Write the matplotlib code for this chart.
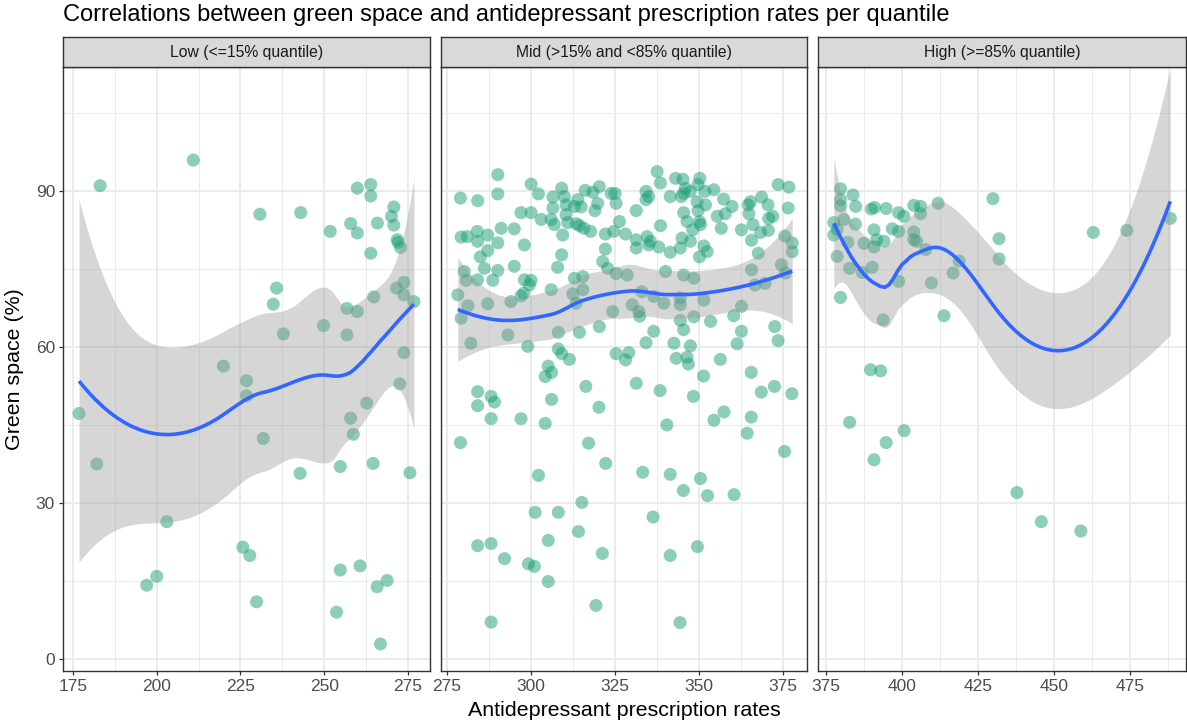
import numpy as np
import matplotlib
matplotlib.use("Agg")
import matplotlib.pyplot as plt
from matplotlib.ticker import MultipleLocator

plt.rcParams['font.family'] = ['Liberation Sans', 'DejaVu Sans']

# ---------------- text ----------------
title = "Correlations between green space and antidepressant prescription rates per quantile"
panel_titles = ["Low (<=15% quantile)", "Mid (>15% and <85% quantile)", "High (>=85% quantile)"]
x_label = "Antidepressant prescription rates"
y_label = "Green space (%)"

# ---------------- data ----------------
low_x = [176.8, 182.1, 183.1, 210.9, 203.0, 200.0, 197.0, 219.9, 226.8, 226.8,
         231.8, 230.8, 243.0, 235.8, 234.8, 237.8, 251.8, 259.9, 263.9, 263.9,
         257.9, 259.9, 265.9, 263.9, 270.8, 270.1, 270.8, 271.8, 272.1, 272.8,
         273.8, 271.6, 273.8, 276.8, 264.8, 256.8, 259.9, 249.8, 256.8, 273.8,
         272.6, 262.7, 257.9, 258.7, 242.8, 254.8, 264.6, 275.6, 225.7, 227.8,
         229.8, 254.8, 260.7, 265.8, 268.8, 253.7, 266.8]
low_y = [47.2, 37.5, 91.0, 95.9, 26.4, 15.9, 14.2, 56.3, 53.5, 50.6,
         42.4, 85.5, 85.8, 71.3, 68.2, 62.5, 82.2, 90.5, 91.2, 89.0,
         83.7, 81.9, 83.8, 78.0, 86.9, 85.1, 83.4, 80.6, 80.1, 79.1,
         72.4, 71.3, 70.0, 68.7, 69.6, 67.4, 66.8, 64.1, 62.3, 58.9,
         52.9, 49.2, 46.3, 43.2, 35.7, 37.0, 37.6, 35.8, 21.5, 19.9,
         11.0, 17.1, 17.9, 13.9, 15.1, 9.0, 2.9]

mid_x = [290.1, 279.0, 284.1, 290.1, 300.0, 302.2, 309.1, 306.5, 309.9, 313.9,
         316.1, 320.3, 318.4, 323.8, 325.0, 325.3, 319.8, 319.0, 312.9, 314.9,
         306.5, 310.4, 297.0, 300.0, 303.0, 306.0, 306.9, 310.4, 310.9, 313.4,
         314.4, 315.7, 317.7, 309.4, 326.3, 322.1, 324.6, 279.2, 281.0, 284.0,
         287.1, 291.1, 295.0, 284.1, 290.1, 298.0, 287.1, 284.9, 309.1, 322.1,
         280.1, 286.1, 290.1, 295.0, 307.9, 321.3, 322.8, 325.3, 312.9, 315.4,
         300.0, 280.7, 284.1, 288.6, 298.0,
         337.5, 338.5, 343.0, 345.2, 350.2, 349.7, 345.9, 345.4, 347.4, 351.7,
         354.4, 334.2, 335.0, 334.2, 341.4, 344.7, 349.4, 351.9, 349.7, 345.4,
         346.4, 350.1, 350.4, 348.1, 331.3, 357.3, 359.8, 355.4, 357.8, 356.6,
         364.6, 364.8, 365.3, 368.6, 370.5, 373.5, 376.7, 376.5, 370.7, 371.9,
         366.0, 368.3, 370.6, 362.6, 365.6, 367.6, 375.5, 377.7, 377.7, 328.1,
         331.3, 334.5, 335.5, 338.5, 331.3, 335.0, 338.0, 341.4, 344.4, 344.9,
         347.4, 351.4, 352.4, 350.1, 340.0, 345.4, 348.4, 328.6, 365.6, 374.5,
         375.7,
         278.2, 281.2, 287.1, 294.0, 297.0, 299.5, 297.8, 306.0, 312.4, 315.4,
         313.4, 324.3, 279.2, 282.1, 293.1, 299.0, 308.1, 314.4, 320.3, 308.1,
         309.1, 311.4, 325.3,
         333.0, 336.5, 339.5, 344.4, 344.4, 351.4, 366.6, 369.6, 330.1, 332.1,
         332.3, 362.6, 360.3, 348.4, 344.4, 353.4, 345.4, 336.5, 362.6, 372.5,
         373.5, 334.2, 342.5, 347.4, 361.3, 329.1, 328.1, 343.2, 346.4, 356.3,
         284.1, 288.1, 289.1, 284.1, 288.1, 297.0, 304.2, 305.1, 306.1, 304.2,
         306.1, 316.3, 320.2, 317.1, 322.2, 331.3, 338.4, 340.4, 348.3, 351.3,
         346.8, 365.5, 368.5, 372.4, 377.6, 354.4, 357.4, 365.5, 364.3, 375.4,
         279.0, 302.2, 333.2, 341.4, 350.4, 345.3, 352.5, 360.4, 315.1, 301.2,
         308.1, 336.3, 314.1, 305.1, 284.1, 288.1, 292.1, 299.2, 301.0, 305.1,
         321.2, 341.4, 349.5, 319.3, 288.1, 344.3]
mid_y = [93.1, 88.6, 88.1, 89.4, 91.3, 89.4, 90.5, 88.8, 88.9, 88.3,
         90.1, 90.8, 89.7, 89.5, 89.5, 87.6, 87.6, 86.2, 87.0, 86.9,
         86.7, 87.3, 85.8, 85.8, 84.5, 84.5, 83.5, 85.4, 83.9, 83.7,
         83.3, 82.8, 82.2, 81.5, 84.1, 81.7, 82.2, 81.1, 81.2, 82.2,
         81.5, 82.8, 82.7, 80.3, 80.0, 79.6, 78.5, 77.3, 77.7, 78.8,
         74.5, 75.1, 74.7, 75.5, 75.3, 76.4, 75.1, 74.1, 73.2, 73.5,
         72.8, 72.8, 72.9, 72.8, 72.9,
         93.7, 91.5, 92.4, 92.2, 92.4, 91.2, 90.5, 89.5, 89.9, 89.9,
         90.2, 89.9, 88.9, 88.3, 88.9, 88.9, 87.9, 87.3, 86.2, 85.8,
         84.1, 84.1, 83.5, 82.5, 86.2, 88.4, 87.0, 85.1, 85.6, 82.8,
         87.3, 85.6, 87.9, 88.8, 87.3, 91.2, 90.7, 86.7, 84.7, 85.1,
         83.5, 82.0, 82.4, 82.5, 80.5, 78.0, 81.3, 80.0, 78.3, 81.7,
         80.6, 81.2, 80.3, 83.3, 79.0, 79.6, 79.2, 78.2, 79.0, 80.9,
         80.3, 79.4, 78.3, 77.3, 74.5, 73.8, 73.2, 73.8, 74.8, 75.8,
         74.2,
         70.0, 67.9, 68.3, 68.7, 69.8, 71.9, 70.3, 71.0, 70.2, 71.0,
         68.4, 66.8, 65.5, 60.7, 62.3, 60.1, 62.8, 62.8, 63.9, 59.6,
         58.7, 57.6, 58.7,
         70.6, 69.7, 68.4, 69.4, 68.1, 69.0, 71.9, 72.2, 68.1, 66.8,
         65.9, 67.8, 66.0, 65.8, 65.1, 64.9, 63.3, 63.0, 63.0, 63.9,
         61.2, 60.8, 60.7, 60.2, 60.6, 58.9, 57.5, 57.8, 58.0, 57.6,
         51.4, 50.5, 49.4, 48.7, 46.2, 46.2, 45.3, 56.3, 55.1, 54.3,
         49.9, 52.4, 48.4, 41.5, 37.6, 53.0, 51.6, 45.0, 50.5, 54.4,
         56.7, 55.1, 51.3, 52.4, 51.0, 45.9, 47.5, 46.5, 43.4, 39.9,
         41.6, 35.3, 35.9, 35.5, 34.7, 32.4, 31.4, 31.6, 30.1, 28.2,
         28.2, 27.3, 24.5, 22.8, 21.8, 22.2, 19.3, 18.3, 17.8, 14.9,
         20.3, 19.9, 21.6, 10.3, 7.1, 7.0]

high_x = [379.9, 384.0, 379.9, 379.9, 384.9, 390.0, 391.1, 394.9, 399.0, 400.7,
          404.0, 406.2, 406.2, 412.0, 430.0, 377.7, 381.0, 384.8, 377.7, 378.8,
          382.3, 387.6, 390.9, 391.8, 394.2, 390.9, 396.9, 399.0, 404.0, 404.0,
          404.9, 407.9, 432.0, 432.0, 418.9, 416.9, 378.8, 382.9, 387.0, 390.3,
          399.0, 409.8, 379.9, 393.9, 413.9, 463.0, 474.0, 488.3, 389.8, 393.1,
          382.9, 400.8, 394.9, 390.9, 437.9, 445.9, 458.9]
high_y = [90.4, 89.2, 88.3, 87.1, 87.0, 86.5, 86.8, 86.6, 85.8, 85.1,
          87.2, 87.0, 85.6, 87.6, 88.5, 83.9, 84.5, 83.6, 81.5, 82.6,
          80.1, 79.9, 82.5, 80.6, 80.3, 79.2, 82.7, 82.2, 82.1, 80.6,
          80.3, 78.7, 80.8, 76.9, 76.5, 74.2, 77.4, 75.1, 74.3, 75.3,
          72.6, 72.3, 69.5, 65.2, 66.0, 82.0, 82.4, 84.7, 55.6, 55.4,
          45.5, 43.9, 41.6, 38.3, 32.0, 26.4, 24.6]

x_ticks = [[175, 200, 225, 250, 275],
           [275, 300, 325, 350, 375],
           [375, 400, 425, 450, 475]]
y_ticks = [0, 30, 60, 90]


# ---------------- loess (R-style: kd-tree vertices + cubic Hermite blending) ----------------
def t_quantile(df, z=1.959964):
    return (z + (z**3 + z) / (4 * df) + (5 * z**5 + 16 * z**3 + 3 * z) / (96 * df**2)
            + (3 * z**7 + 19 * z**5 + 17 * z**3 - 15 * z) / (384 * df**3))


def loess(x, y, span=0.75, cell=0.2, n_grid=80):
    x = np.asarray(x, float)
    y = np.asarray(y, float)
    n = len(x)
    q = int(np.floor(n * span))
    fc = int(np.floor(n * span * cell))

    def local_rows(x0):
        d = np.abs(x - x0)
        h = np.sort(d)[q - 1]
        u = np.clip(d / h, 0, 1)
        w = (1 - u ** 3) ** 3
        X = np.column_stack([np.ones(n), x - x0, (x - x0) ** 2])
        Wt = X * w[:, None]
        A = X.T @ Wt
        sol = np.linalg.solve(A, Wt.T)
        return sol[0], sol[1]

    lo, hi = x.min(), x.max()
    marg = 0.005 * (hi - lo)
    verts = {lo - marg, hi + marg}

    def split(pts):
        if len(pts) <= fc:
            return
        pts = np.sort(pts)
        m = (len(pts) + 1) // 2 - 1
        while m + 1 < len(pts) and pts[m] == pts[m + 1]:
            m += 1
        if m + 1 >= len(pts):
            return
        v = pts[m]
        verts.add(v)
        split(pts[:m + 1])
        split(pts[m + 1:])

    split(x)
    vs = np.array(sorted(verts))
    vrows = [local_rows(v) for v in vs]
    V0 = np.array([r[0] for r in vrows])
    V1 = np.array([r[1] for r in vrows])

    def interp_rows(z):
        z = np.atleast_1d(z)
        out = np.empty((len(z), n))
        for k, zz in enumerate(z):
            j = np.clip(np.searchsorted(vs, zz) - 1, 0, len(vs) - 2)
            a, b = vs[j], vs[j + 1]
            hh = b - a
            t = (zz - a) / hh
            p0 = (1 - t) ** 2 * (1 + 2 * t)
            p1 = t ** 2 * (3 - 2 * t)
            s0 = t * (1 - t) ** 2
            s1 = -t ** 2 * (1 - t)
            out[k] = p0 * V0[j] + p1 * V0[j + 1] + hh * (s0 * V1[j] + s1 * V1[j + 1])
        return out

    L = interp_rows(x)
    res = y - L @ y
    M = np.eye(n) - L
    MM = M.T @ M
    d1 = np.trace(MM)
    d2 = np.trace(MM @ MM)
    s = np.sqrt(np.sum(res ** 2) / d1)
    df = d1 ** 2 / d2
    grid = np.linspace(x.min(), x.max(), n_grid)
    G = interp_rows(grid)
    fit = G @ y
    se = s * np.sqrt(np.sum(G ** 2, axis=1))
    t = t_quantile(df)
    return grid, fit, fit - t * se, fit + t * se


# ---------------- figure ----------------
W, H = 1187, 726
fig = plt.figure(figsize=(W / 100, H / 100), dpi=100)

panel_px = [(63, 430), (441, 807), (818, 1185.5)]
top_px, bot_px = 67, 671
strip_top_px = 37
xlims = [(172.0, 281.6), (273.2, 382.1), (372.5, 493.3)]
ylim = (-2.3, 113.8)

series = [(low_x, low_y), (mid_x, mid_y), (high_x, high_y)]

point_color = "#1B9E77"
axis_text_color = "#4D4D4D"
border_color = "#333333"

for i, ((l, r), (xs, ys)) in enumerate(zip(panel_px, series)):
    ax = fig.add_axes([l / W, 1 - bot_px / H, (r - l) / W, (bot_px - top_px) / H])
    ax.set_xlim(*xlims[i])
    ax.set_ylim(*ylim)
    ax.set_facecolor("white")

    ax.scatter(xs, ys, s=88, color=point_color, alpha=0.5, edgecolors="none", zorder=2)
    gx, fit, lo, hi = loess(xs, ys)
    ax.fill_between(gx, lo, hi, color="#999999", alpha=0.4, linewidth=0, zorder=3)
    ax.plot(gx, fit, color="#3366FF", lw=2.6, zorder=4, solid_capstyle="butt")

    ax.set_xticks(x_ticks[i])
    ax.xaxis.set_minor_locator(MultipleLocator(12.5))
    ax.set_yticks(y_ticks)
    ax.yaxis.set_minor_locator(MultipleLocator(15))
    ax.grid(which="major", color="#EBEBEB", lw=1.4, zorder=0)
    ax.grid(which="minor", color="#EBEBEB", lw=0.7, zorder=0)
    ax.set_axisbelow(True)
    ax.tick_params(which="minor", length=0)
    ax.tick_params(which="major", length=3.2, width=0.9, color=border_color,
                   labelsize=12.5, labelcolor=axis_text_color, pad=2.5)
    ax.set_xticklabels([str(v) for v in x_ticks[i]])
    if i == 0:
        ax.set_yticklabels([str(v) for v in y_ticks])
    else:
        ax.tick_params(axis="y", left=False, labelleft=False)
    for sp in ax.spines.values():
        sp.set_color(border_color)
        sp.set_linewidth(1.0)

    # strip
    sax = fig.add_axes([l / W, 1 - top_px / H, (r - l) / W, (top_px - strip_top_px) / H])
    sax.set_xticks([])
    sax.set_yticks([])
    sax.set_facecolor("#D9D9D9")
    for sp in sax.spines.values():
        sp.set_color(border_color)
        sp.set_linewidth(1.0)
    sax.text(0.5, 0.5, panel_titles[i], ha="center", va="center",
             fontsize=11.3, color="#1A1A1A", transform=sax.transAxes)

fig.text(63 / W, 1 - 21 / H, title, ha="left", va="baseline", fontsize=17, color="black")
fig.text(624 / W, 1 - 711 / H, x_label, ha="center", va="center", fontsize=15.4, color="black")
fig.text(15 / W, 1 - 369 / H, y_label, ha="center", va="center", rotation=90,
         fontsize=15.4, color="black")

fig.savefig("out.png", dpi=100)
